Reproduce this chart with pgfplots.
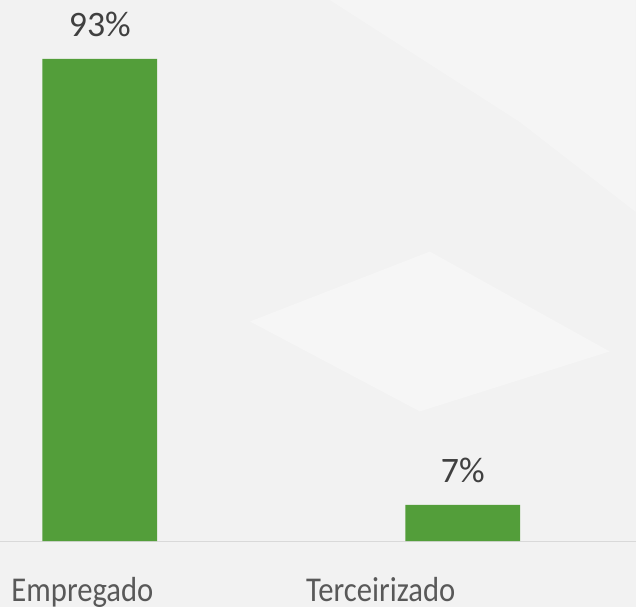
\documentclass[border=0pt]{standalone}
\usepackage{fontspec}
\setmainfont{Carlito}
\usepackage{pgfplots}
\pgfplotsset{compat=1.18}
\definecolor{bargreen}{RGB}{83,158,58}
\definecolor{bgray}{RGB}{242,242,242}
\definecolor{numtxt}{RGB}{64,64,64}
\definecolor{cattxt}{RGB}{89,89,89}
\definecolor{baseln}{RGB}{217,217,217}
\begin{document}
\begin{tikzpicture}
\fill[bgray] (0,-66bp) rectangle (636bp,542bp);
\fill[white,opacity=0.35] (250bp,220bp) -- (430bp,290bp) -- (610bp,190bp) -- (420bp,130bp) -- cycle;
\fill[white,opacity=0.3] (330bp,542bp) -- (636bp,542bp) -- (636bp,330bp) -- (520bp,420bp) -- cycle;
\begin{axis}[scale only axis,width=636bp,height=542bp,
  xmin=-0.2737,xmax=1.476,ymin=0,ymax=104.35,
  axis y line=none,axis x line=bottom,
  x axis line style={draw=baseln,line width=1pt,-},
  xtick={-0.048,0.774},xticklabels={Empregado,Terceirizado},
  major tick length=0,ytick=\empty,
  xticklabel style={anchor=base,yshift=-60bp,xscale=0.88,font=\fontsize{35}{40}\selectfont,text=cattxt},
  /pgf/number format/assume math mode=true,
  nodes near coords={\pgfmathprintnumber\pgfplotspointmeta\%},
  every node near coord/.append style={anchor=base,inner sep=0pt,yshift=22bp,
    font=\fontsize{36}{40}\selectfont,text=numtxt},
  clip=false]
\addplot[ybar,bar width=115bp,fill=bargreen,draw=none] coordinates {(0,93) (1,7)};
\end{axis}
\path[use as bounding box] (0,-66bp) rectangle (636bp,542bp);
\end{tikzpicture}
\end{document}
